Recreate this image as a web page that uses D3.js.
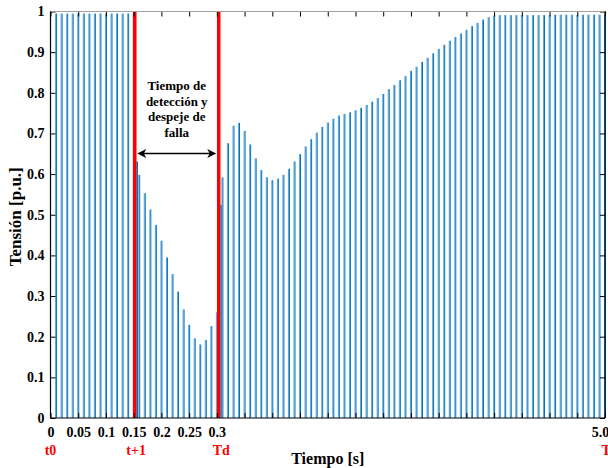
<!DOCTYPE html>
<html>
<head>
<meta charset="utf-8">
<script src="https://cdn.jsdelivr.net/npm/d3@7"></script>
<style>
  html, body { margin: 0; padding: 0; background: #fff; }
  svg { display: block; }
  text { font-family: "Liberation Serif", "Times New Roman", serif; font-weight: bold; }
</style>
</head>
<body>
<svg id="chart" width="608" height="468"></svg>
<script>
// Muestras de tensión cada 10 ms (t = 0.01 ... 1.00)
const pasoMuestreo = 0.01;
const tension = [
  0.995, 0.995, 0.995, 0.995, 0.995, 0.995, 0.995, 0.995, 0.995, 0.995,
  0.995, 0.995, 0.995, 0.995, 0.995, 0.598, 0.553, 0.513, 0.475, 0.436,
  0.395, 0.354, 0.311, 0.267, 0.229, 0.196, 0.181, 0.192, 0.226, 0.260,
  0.592, 0.676, 0.719, 0.726, 0.706, 0.673, 0.639, 0.610, 0.592, 0.585,
  0.589, 0.598, 0.613, 0.631, 0.649, 0.668, 0.686, 0.702, 0.716, 0.727,
  0.736, 0.744, 0.748, 0.752, 0.757, 0.763, 0.770, 0.778, 0.787, 0.797,
  0.809, 0.819, 0.831, 0.841, 0.854, 0.864, 0.876, 0.886, 0.897, 0.908,
  0.918, 0.928, 0.937, 0.946, 0.955, 0.964, 0.972, 0.980, 0.986, 0.990,
  0.991, 0.991, 0.991, 0.991, 0.991, 0.991, 0.991, 0.991, 0.991, 0.991,
  0.992, 0.992, 0.992, 0.992, 0.992, 0.992, 0.992, 0.992, 0.992, 0.992
];

// Muestras adicionales justo después de cada conmutación
const tiempoConmutacion = [0.156, 0.307];
const tensionConmutacion = [0.631, 0.524];

// Instantes de inicio de falla (t+1) y de despeje (Td)
const tiemposEvento = [0.152, 0.3034];

// Ejes
const ticksX = [0, 0.05, 0.1, 0.15, 0.2, 0.25, 0.3, 0.35, 0.4, 0.45, 0.5,
                0.55, 0.6, 0.65, 0.7, 0.75, 0.8, 0.85, 0.9, 0.95, 1.0];
const etiquetasX = ["0", "0.05", "0.1", "0.15", "0.2", "0.25", "0.3", "", "", "", "",
                    "", "", "", "", "", "", "", "", "", "5.0"];
const ticksY = [0, 0.1, 0.2, 0.3, 0.4, 0.5, 0.6, 0.7, 0.8, 0.9, 1];
const etiquetasY = ["0", "0.1", "0.2", "0.3", "0.4", "0.5", "0.6", "0.7", "0.8", "0.9", "1"];

// Etiquetas rojas de los instantes
const etiquetasEvento = ["t0", "t+1", "Td", "Tf"];
const tiemposEtiqueta = [0, 0.1545, 0.308, 0.9935];

const textoAnotacion = ["Tiempo de", "detección y", "despeje de", "falla"];

const svg = d3.select("#chart");
const margen = { izq: 50.5, der: 605, sup: 11.5, inf: 418 };

const x = d3.scaleLinear().domain([0, 1]).range([margen.izq, margen.der]);
const y = d3.scaleLinear().domain([0, 1]).range([margen.inf, margen.sup]);

const muestras = tension.map((v, i) => ({ t: +((i + 1) * pasoMuestreo).toFixed(2), v }))
  .concat(tiempoConmutacion.map((t, i) => ({ t, v: tensionConmutacion[i] })));

// Barras: borde claro a la izquierda y trazo oscuro a la derecha
const barras = svg.append("g");
barras.selectAll("rect.claro").data(muestras).join("rect")
  .attr("class", "claro")
  .attr("x", d => x(d.t) - 1)
  .attr("width", 1)
  .attr("y", d => y(d.v))
  .attr("height", d => y(0) - y(d.v))
  .attr("fill", "#5fa6dc");
barras.selectAll("rect.oscuro").data(muestras).join("rect")
  .attr("class", "oscuro")
  .attr("x", d => x(d.t))
  .attr("width", 1)
  .attr("y", d => y(d.v))
  .attr("height", d => y(0) - y(d.v))
  .attr("fill", "#0072bd");

// Líneas rojas de los eventos
svg.append("g").selectAll("line").data(tiemposEvento).join("line")
  .attr("x1", d => x(d)).attr("x2", d => x(d))
  .attr("y1", y(0)).attr("y2", y(1))
  .attr("stroke", "#ff0000")
  .attr("stroke-width", 3.5);

// Ejes con marcas hacia el interior
const estiloEje = g => {
  g.select(".domain").remove();
  g.selectAll(".tick line").attr("stroke", "#000");
  g.selectAll(".tick text").attr("fill", "#000")
    .style("font-family", "'Liberation Serif', 'Times New Roman', serif")
    .style("font-weight", "bold").style("font-size", "14px");
};

svg.append("g").attr("transform", `translate(0,${margen.inf})`)
  .call(d3.axisBottom(x).tickValues(ticksX).tickSize(-5).tickPadding(9.5)
    .tickFormat((d, i) => etiquetasX[i]))
  .call(estiloEje)
  .call(g => g.selectAll(".tick text").filter((d, i) => i === ticksX.length - 1).attr("dx", -5));

svg.append("g").attr("transform", `translate(0,${margen.sup})`)
  .call(d3.axisTop(x).tickValues(ticksX).tickSize(-5).tickFormat(""))
  .call(estiloEje);

svg.append("g").attr("transform", `translate(${margen.izq},0)`)
  .call(d3.axisLeft(y).tickValues(ticksY).tickSize(-5).tickPadding(6)
    .tickFormat((d, i) => etiquetasY[i]))
  .call(estiloEje);

svg.append("g").attr("transform", `translate(${margen.der},0)`)
  .call(d3.axisRight(y).tickValues(ticksY).tickSize(-5).tickFormat(""))
  .call(estiloEje);

// Marco
svg.append("line").attr("x1", margen.izq).attr("x2", margen.der).attr("y1", margen.sup).attr("y2", margen.sup)
  .attr("stroke", "#a0a0a0").attr("stroke-width", 1);
svg.append("line").attr("x1", margen.izq).attr("x2", margen.der).attr("y1", margen.inf).attr("y2", margen.inf)
  .attr("stroke", "#000").attr("stroke-width", 1.2);
svg.append("line").attr("x1", margen.izq).attr("x2", margen.izq).attr("y1", margen.sup).attr("y2", margen.inf)
  .attr("stroke", "#000").attr("stroke-width", 1.2);
svg.append("line").attr("x1", margen.der).attr("x2", margen.der).attr("y1", margen.sup).attr("y2", margen.inf)
  .attr("stroke", "#000").attr("stroke-width", 1.2);

// Etiquetas rojas bajo el eje
svg.append("g").selectAll("text").data(etiquetasEvento).join("text")
  .attr("x", (d, i) => x(tiemposEtiqueta[i]))
  .attr("y", 455)
  .attr("text-anchor", (d, i) => i === etiquetasEvento.length - 1 ? "start" : "middle")
  .attr("fill", "#ff0000")
  .style("font-size", "14px")
  .text(d => d);

// Títulos de los ejes
svg.append("text")
  .attr("x", (margen.izq + margen.der) / 2).attr("y", 464)
  .attr("text-anchor", "middle")
  .style("font-size", "16px")
  .text("Tiempo [s]");

svg.append("text")
  .attr("transform", `translate(21,${(margen.sup + margen.inf) / 2 + 2}) rotate(-90)`)
  .attr("text-anchor", "middle")
  .style("font-size", "17px")
  .text("Tensión [p.u.]");

// Anotación del intervalo de detección y despeje
const xMedio = (x(tiemposEvento[0]) + x(tiemposEvento[1])) / 2;
svg.append("g").selectAll("text").data(textoAnotacion).join("text")
  .attr("x", xMedio)
  .attr("y", (d, i) => 90 + i * 15.7)
  .attr("text-anchor", "middle")
  .style("font-size", "13px")
  .text(d => d);

// Flecha doble
const yFlecha = 153.5;
const x1 = x(tiemposEvento[0]) + 2.5, x2 = x(tiemposEvento[1]) - 2.5;
svg.append("line").attr("x1", x1 + 4).attr("x2", x2 - 4)
  .attr("y1", yFlecha).attr("y2", yFlecha)
  .attr("stroke", "#000").attr("stroke-width", 1.5);
const punta = (xp, dir) => {
  const p = d3.path();
  p.moveTo(xp, yFlecha);
  p.lineTo(xp + dir * 9, yFlecha - 4.5);
  p.lineTo(xp + dir * 6.5, yFlecha);
  p.lineTo(xp + dir * 9, yFlecha + 4.5);
  p.closePath();
  return p.toString();
};
svg.append("path").attr("d", punta(x1, 1)).attr("fill", "#000");
svg.append("path").attr("d", punta(x2, -1)).attr("fill", "#000");
</script>
</body>
</html>
